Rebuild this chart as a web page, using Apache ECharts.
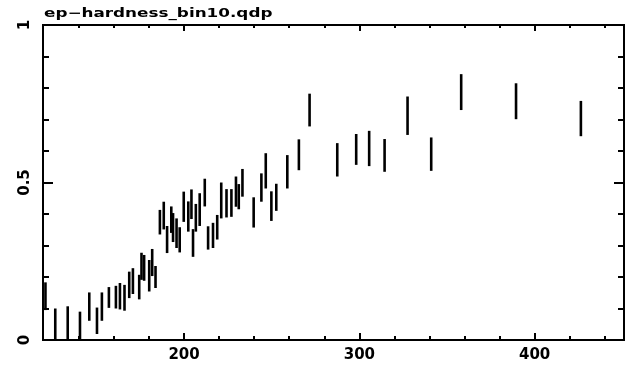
<!DOCTYPE html>
<html>
<head>
<meta charset="utf-8">
<script src="https://cdn.jsdelivr.net/npm/echarts@6/dist/echarts.min.js"></script>
<style>
  html, body { margin: 0; padding: 0; background: #fff; }
  #chart { width: 627px; height: 368px; }
</style>
</head>
<body>
<div id="chart"></div>
<script>
// Hardness ratio versus energy channel, plotted as vertical error bars.
const plotTitle = 'ep\u2212hardness_bin10.qdp';

const energy = [
  120.9, 126.5, 133.6, 140.6, 145.9, 150.3, 153.1, 157.1, 161.1, 163.4,
  166.0, 168.7, 170.8, 174.4, 175.7, 177.2, 180.1, 181.8, 183.7, 186.2,
  188.4, 190.3, 192.7, 193.7, 195.7, 197.5, 199.8, 202.4, 204.2, 205.1,
  206.7, 208.9, 211.8, 213.7, 216.5, 218.9, 221.2, 224.2, 227.0, 229.6,
  231.2, 233.3, 239.7, 244.1, 246.6, 249.8, 252.6, 258.9, 265.5, 271.6,
  287.4, 298.2, 305.6, 314.4, 327.5, 341.0, 358.1, 389.4, 426.4
];
const hardness = [
  0.139, 0.048, 0.055, 0.040, 0.106, 0.061, 0.106, 0.135, 0.136, 0.139,
  0.134, 0.175, 0.187, 0.168, 0.234, 0.229, 0.204, 0.246, 0.200, 0.374,
  0.395, 0.319, 0.382, 0.357, 0.339, 0.318, 0.423, 0.392, 0.431, 0.308,
  0.388, 0.414, 0.468, 0.324, 0.332, 0.358, 0.443, 0.434, 0.435, 0.471,
  0.455, 0.499, 0.405, 0.484, 0.537, 0.425, 0.453, 0.534, 0.588, 0.730,
  0.572, 0.605, 0.608, 0.586, 0.712, 0.590, 0.787, 0.758, 0.703
];
const hardnessErr = [
  0.044, 0.052, 0.052, 0.050, 0.045, 0.042, 0.045, 0.033, 0.036, 0.042,
  0.041, 0.042, 0.041, 0.039, 0.043, 0.041, 0.050, 0.043, 0.035, 0.039,
  0.044, 0.043, 0.042, 0.046, 0.047, 0.040, 0.048, 0.048, 0.047, 0.044,
  0.044, 0.052, 0.044, 0.037, 0.040, 0.039, 0.057, 0.045, 0.044, 0.048,
  0.040, 0.044, 0.048, 0.045, 0.056, 0.047, 0.043, 0.053, 0.049, 0.052,
  0.053, 0.049, 0.056, 0.052, 0.061, 0.053, 0.057, 0.057, 0.056
];

const xRange = [119.5, 451];
const yRange = [0, 1];
const xMajorTicks = [200, 300, 400];
const xMinorTicks = [140, 160, 180, 220, 240, 260, 280, 320, 340, 360, 380, 420, 440];
const yMajorTicks = [0, 0.5, 1];
const yMinorTicks = [0.1, 0.2, 0.3, 0.4, 0.6, 0.7, 0.8, 0.9];

const INK = '#000';
const FONT = '"DejaVu Sans", sans-serif';

function frameAxis(kind, position, ticks, tickLen, labelOpts) {
  const range = kind === 'x' ? xRange : yRange;
  return {
    type: 'value',
    position: position,
    min: range[0],
    max: range[1],
    axisLine: { show: true, onZero: false, lineStyle: { color: INK, width: 2 } },
    axisTick: {
      show: true, inside: true, length: tickLen, customValues: ticks,
      lineStyle: { color: INK, width: 2 }
    },
    axisLabel: labelOpts
      ? Object.assign({ show: true, customValues: ticks, color: INK,
          fontFamily: FONT, fontWeight: 'bold', fontSize: 15 }, labelOpts)
      : { show: false },
    splitLine: { show: false },
    minorTick: { show: false },
    minorSplitLine: { show: false }
  };
}

const chart = echarts.init(document.getElementById('chart'), null, { renderer: 'canvas' });

chart.setOption({
  animation: false,
  backgroundColor: '#fff',
  grid: { left: 43, right: 3, top: 25, bottom: 28, containLabel: false, outerBoundsMode: 'none' },
  graphic: [{
    type: 'text',
    x: 44,
    y: 14,
    scaleX: 1.4,
    style: {
      text: plotTitle,
      fill: INK,
      fontFamily: FONT,
      fontWeight: 'bold',
      fontSize: 12,
      align: 'left',
      verticalAlign: 'middle'
    }
  }],
  xAxis: [
    frameAxis('x', 'bottom', xMajorTicks, 7, { margin: 8, formatter: v => String(v) }),
    frameAxis('x', 'bottom', xMinorTicks, 4, null),
    frameAxis('x', 'top', xMajorTicks, 6, null),
    frameAxis('x', 'top', xMinorTicks, 3, null)
  ],
  yAxis: [
    frameAxis('y', 'left', yMajorTicks, 10, { margin: 10, rotate: 90, formatter: v => String(v) }),
    frameAxis('y', 'left', yMinorTicks, 6, null),
    frameAxis('y', 'right', yMajorTicks, 10, null),
    frameAxis('y', 'right', yMinorTicks, 6, null)
  ],
  series: [{
    type: 'custom',
    xAxisIndex: 0,
    yAxisIndex: 0,
    clip: true,
    encode: { x: 0, y: [1] },
    data: energy.map((e, i) => [e, hardness[i], hardnessErr[i]]),
    renderItem: function (params, api) {
      const x = api.value(0);
      const c = api.value(1);
      const err = api.value(2);
      const top = api.coord([x, c + err]);
      const bottom = api.coord([x, c - err]);
      const w = 2.6;
      return {
        type: 'rect',
        shape: { x: top[0] - w / 2, y: top[1], width: w, height: bottom[1] - top[1] },
        style: { fill: INK }
      };
    }
  }]
});
</script>
</body>
</html>
